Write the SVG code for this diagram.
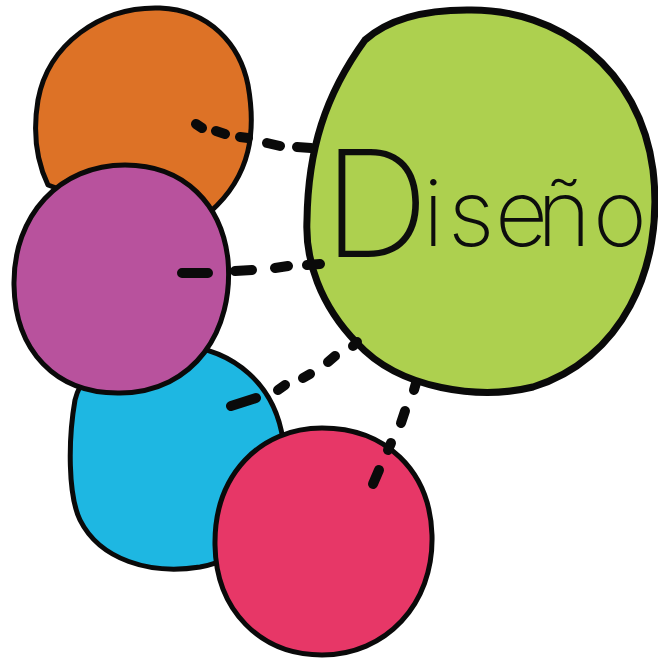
<svg xmlns="http://www.w3.org/2000/svg" width="658" height="659" viewBox="0 0 658 659">
  <style>
    .blob { stroke: #0a0a0a; stroke-width: 5; stroke-linejoin: round; }
    .big { stroke-width: 7; }
    .dash { fill: none; stroke: #0a0a0a; stroke-width: 10; stroke-linecap: round; }
    .word { font-family: Inter, "Open Sans", "DejaVu Sans", sans-serif; font-weight: 200; fill: #0d0d0d; }
  </style>
  <rect width="658" height="659" fill="#ffffff"/>

  <g id="node-orange">
    <path class="blob" fill="#DD7226" d="M160,8 C210,10 240,45 248,85 C256,130 252,175 210,212 L130,215 L48,185 C36,160 33,130 38,100 C48,45 100,6 160,8 Z"/>
  </g>

  <g id="node-blue">
    <path class="blob" fill="#1EB7E2" d="M180,345 C235,350 275,385 283,440 C290,500 265,555 200,567 C150,575 100,560 80,520 C68,495 68,440 75,400 C85,360 130,342 180,345 Z"/>
  </g>

  <g id="node-purple">
    <path class="blob" fill="#B8529D" d="M125,165 C185,165 222,205 228,260 C234,330 195,392 120,393 C55,394 15,350 14,285 C13,215 60,165 125,165 Z"/>
  </g>

  <g id="node-pink">
    <path class="blob" fill="#E73767" d="M322,428 C385,428 430,470 432,535 C434,605 385,655 322,655 C260,655 216,610 215,545 C214,475 260,428 322,428 Z"/>
  </g>

  <g id="node-diseno">
    <path class="blob big" fill="#ADD04F" d="M467,10 C560,8 640,70 653,170 C665,270 620,360 533,387 C480,400 400,390 357,343 C320,305 305,260 307,220 C308,150 325,95 365,40 C390,18 425,10 467,10 Z"/>
    <text class="word" y="257">
      <tspan x="323" font-size="148">D</tspan>
    </text>
    <text class="word" font-size="92" y="246" x="423 448 495 537 593">iseño</text>
  </g>

  <g id="connectors">
    <path class="dash" d="M196,124 L202,128 M216,131 L225,134 M240,137 L248,138 M267,143 L280,146 M297,147 L311,148"/>
    <path class="dash" d="M182,273 L208,273 M235,271 L252,270 M275,268 L288,266 M307,265 L320,264"/>
    <path class="dash" d="M231,406 L256,398 M278,390 L285,385 M303,378 L310,374 M328,362 L335,356 M353,346 L357,342"/>
    <path class="dash" d="M373,484 L379,470 M388,450 L391,443 M401,423 L405,411 M414,390 L416,383"/>
  </g>
</svg>
